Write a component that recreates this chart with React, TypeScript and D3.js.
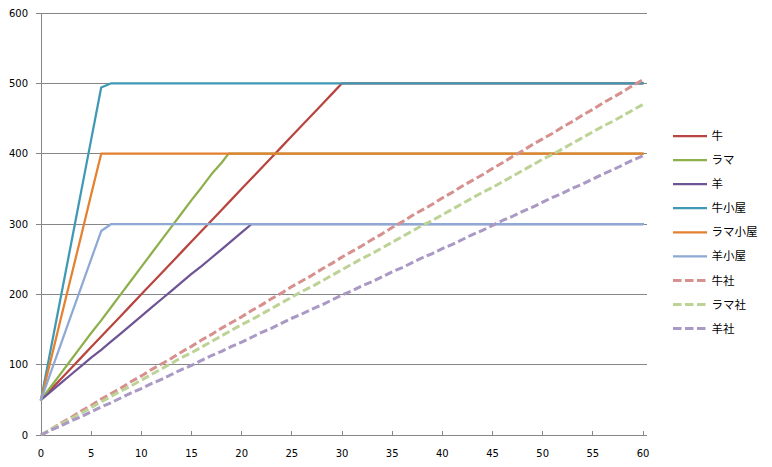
import React from 'react';
import * as d3 from 'd3';

// x positions shared by most series (0..60)
const xValues = [
  0, 1, 2, 3, 4, 5, 6, 7, 8, 9,
  10, 11, 12, 13, 14, 15, 16, 17, 18, 19,
  20, 21, 22, 23, 24, 25, 26, 27, 28, 29,
  30, 31, 32, 33, 34, 35, 36, 37, 38, 39,
  40, 41, 42, 43, 44, 45, 46, 47, 48, 49,
  50, 51, 52, 53, 54, 55, 56, 57, 58, 59,
  60,
];
// llama reaches its cap between steps
const llamaX = [
  0, 1, 2, 3, 4, 5, 6, 7, 8, 9,
  10, 11, 12, 13, 14, 15, 16, 17, 18, 18.7,
  19, 20, 25, 30, 35, 40, 45, 50, 55, 60,
];
const xTicks = [0, 5, 10, 15, 20, 25, 30, 35, 40, 45, 50, 55, 60];
const yTicks = [0, 100, 200, 300, 400, 500, 600];

const cow = [
  50, 65, 80, 95, 110, 125, 140, 155, 170, 185,
  200, 215, 230, 245, 260, 275, 290, 305, 320, 335,
  350, 365, 380, 395, 410, 425, 440, 455, 470, 485,
  500, 500, 500, 500, 500, 500, 500, 500, 500, 500,
  500, 500, 500, 500, 500, 500, 500, 500, 500, 500,
  500, 500, 500, 500, 500, 500, 500, 500, 500, 500,
  500,
];
const llama = [
  50, 69, 88, 107, 126, 145, 163, 182, 201, 220,
  239, 258, 277, 296, 315, 334, 352, 371, 387, 400,
  400, 400, 400, 400, 400, 400, 400, 400, 400, 400,
];
const sheep = [
  50, 62, 74, 86, 98, 110, 121, 133, 145, 157,
  169, 181, 193, 205, 217, 229, 240, 252, 264, 276,
  288, 300, 300, 300, 300, 300, 300, 300, 300, 300,
  300, 300, 300, 300, 300, 300, 300, 300, 300, 300,
  300, 300, 300, 300, 300, 300, 300, 300, 300, 300,
  300, 300, 300, 300, 300, 300, 300, 300, 300, 300,
  300,
];
const cowShed = [
  50, 124, 198, 272, 346, 420, 494, 500, 500, 500,
  500, 500, 500, 500, 500, 500, 500, 500, 500, 500,
  500, 500, 500, 500, 500, 500, 500, 500, 500, 500,
  500, 500, 500, 500, 500, 500, 500, 500, 500, 500,
  500, 500, 500, 500, 500, 500, 500, 500, 500, 500,
  500, 500, 500, 500, 500, 500, 500, 500, 500, 500,
  500,
];
const llamaShed = [
  50, 108, 167, 225, 283, 342, 400, 400, 400, 400,
  400, 400, 400, 400, 400, 400, 400, 400, 400, 400,
  400, 400, 400, 400, 400, 400, 400, 400, 400, 400,
  400, 400, 400, 400, 400, 400, 400, 400, 400, 400,
  400, 400, 400, 400, 400, 400, 400, 400, 400, 400,
  400, 400, 400, 400, 400, 400, 400, 400, 400, 400,
  400,
];
const sheepShed = [
  50, 90, 130, 170, 210, 250, 290, 300, 300, 300,
  300, 300, 300, 300, 300, 300, 300, 300, 300, 300,
  300, 300, 300, 300, 300, 300, 300, 300, 300, 300,
  300, 300, 300, 300, 300, 300, 300, 300, 300, 300,
  300, 300, 300, 300, 300, 300, 300, 300, 300, 300,
  300, 300, 300, 300, 300, 300, 300, 300, 300, 300,
  300,
];
const cowCo = [
  0, 8, 17, 25, 34, 42, 51, 59, 67, 76,
  84, 93, 101, 109, 118, 126, 135, 143, 152, 160,
  168, 177, 185, 194, 202, 211, 219, 227, 236, 244,
  253, 261, 269, 278, 286, 295, 303, 312, 320, 328,
  337, 345, 354, 362, 370, 379, 387, 396, 404, 413,
  421, 429, 438, 446, 455, 463, 472, 480, 488, 497,
  505,
];
const llamaCo = [
  0, 8, 16, 23, 31, 39, 47, 55, 63, 70,
  78, 86, 94, 102, 110, 117, 125, 133, 141, 149,
  157, 164, 172, 180, 188, 196, 204, 211, 219, 227,
  235, 243, 251, 258, 266, 274, 282, 290, 298, 305,
  313, 321, 329, 337, 345, 352, 360, 368, 376, 384,
  392, 399, 407, 415, 423, 431, 439, 446, 454, 462,
  470,
];
const sheepCo = [
  0, 7, 13, 20, 26, 33, 40, 46, 53, 60,
  66, 73, 79, 86, 93, 99, 106, 113, 119, 126,
  132, 139, 146, 152, 159, 166, 172, 179, 185, 192,
  199, 205, 212, 218, 225, 232, 238, 245, 252, 258,
  265, 271, 278, 285, 291, 298, 305, 311, 318, 324,
  331, 338, 344, 351, 357, 364, 371, 377, 384, 391,
  397,
];

const series = [
  { name: '牛', xs: xValues, values: cow, color: '#B8453F', dashed: false },
  { name: 'ラマ', xs: llamaX, values: llama, color: '#8DAF4C', dashed: false },
  { name: '羊', xs: xValues, values: sheep, color: '#6F5495', dashed: false },
  { name: '牛小屋', xs: xValues, values: cowShed, color: '#3F99B4', dashed: false },
  { name: 'ラマ小屋', xs: xValues, values: llamaShed, color: '#E4802F', dashed: false },
  { name: '羊小屋', xs: xValues, values: sheepShed, color: '#8DA9D4', dashed: false },
  { name: '牛社', xs: xValues, values: cowCo, color: '#D6908E', dashed: true },
  { name: 'ラマ社', xs: xValues, values: llamaCo, color: '#BDD396', dashed: true },
  { name: '羊社', xs: xValues, values: sheepCo, color: '#A999C4', dashed: true },
];

const W = 772;
const H = 467;
const left = 41;
const plotRight = 647;
const top = 13;
const bottom = 435;

const axisColor = '#868686';
const numFont = '"DejaVu Sans", Verdana, sans-serif';
const jpFont = '"Noto Sans CJK JP", sans-serif';

export default function App() {
  const x = d3.scaleLinear().domain([0, 60]).range([left, 643]);
  const y = d3.scaleLinear().domain([0, 600]).range([bottom, top]);

  const makeLine = (xs: number[]) =>
    d3
      .line<number>()
      .x((_, i) => x(xs[i]))
      .y((d) => y(d));

  const legendY = d3.scaleLinear().domain([0, 8]).range([136, 328.5]);

  return (
    <svg
      width={W}
      height={H}
      style={{ position: 'absolute', left: 0, top: 0, background: '#fff' }}
    >
      {/* gridlines */}
      {yTicks.slice(1).map((t) => (
        <line
          key={t}
          x1={left - 5}
          x2={plotRight}
          y1={y(t)}
          y2={y(t)}
          stroke={axisColor}
          strokeWidth={1}
          shapeRendering="crispEdges"
        />
      ))}
      {/* axes */}
      <line x1={left} x2={left} y1={top} y2={bottom} stroke={axisColor} shapeRendering="crispEdges" />
      <line x1={left - 5} x2={plotRight} y1={bottom} y2={bottom} stroke={axisColor} shapeRendering="crispEdges" />
      {xTicks.slice(1).map((t) => (
        <line
          key={t}
          x1={x(t)}
          x2={x(t)}
          y1={bottom}
          y2={bottom - 4}
          stroke={axisColor}
          shapeRendering="crispEdges"
        />
      ))}
      {yTicks.map((t) => (
        <text
          key={t}
          x={28}
          y={y(t)}
          dy="0.36em"
          textAnchor="end"
          fontFamily={numFont}
          fontSize={10}
          fill="#000"
        >
          {t}
        </text>
      ))}
      {xTicks.map((t) => (
        <text
          key={t}
          x={x(t)}
          y={457}
          textAnchor="middle"
          fontFamily={numFont}
          fontSize={10}
          fill="#000"
        >
          {t}
        </text>
      ))}

      {/* series */}
      {series.map((s) => (
        <path
          key={s.name}
          d={makeLine(s.xs)(s.values) || ''}
          fill="none"
          stroke={s.color}
          strokeWidth={s.dashed ? 3 : 2.25}
          strokeDasharray={s.dashed ? '8,3.5' : undefined}
          strokeLinejoin="round"
          strokeLinecap={s.dashed ? 'butt' : 'round'}
        />
      ))}

      {/* legend */}
      {series.map((s, i) => (
        <g key={s.name} transform={`translate(673,${legendY(i)})`}>
          <line
            x1={0}
            x2={34}
            y1={0}
            y2={0}
            stroke={s.color}
            strokeWidth={s.dashed ? 3 : 2.25}
            strokeDasharray={s.dashed ? '8.5,3.5' : undefined}
          />
          <text
            x={38.5}
            y={0}
            dy="0.36em"
            fontFamily={jpFont}
            fontSize={11.5}
            fill="#000"
          >
            {s.name}
          </text>
        </g>
      ))}
    </svg>
  );
}
